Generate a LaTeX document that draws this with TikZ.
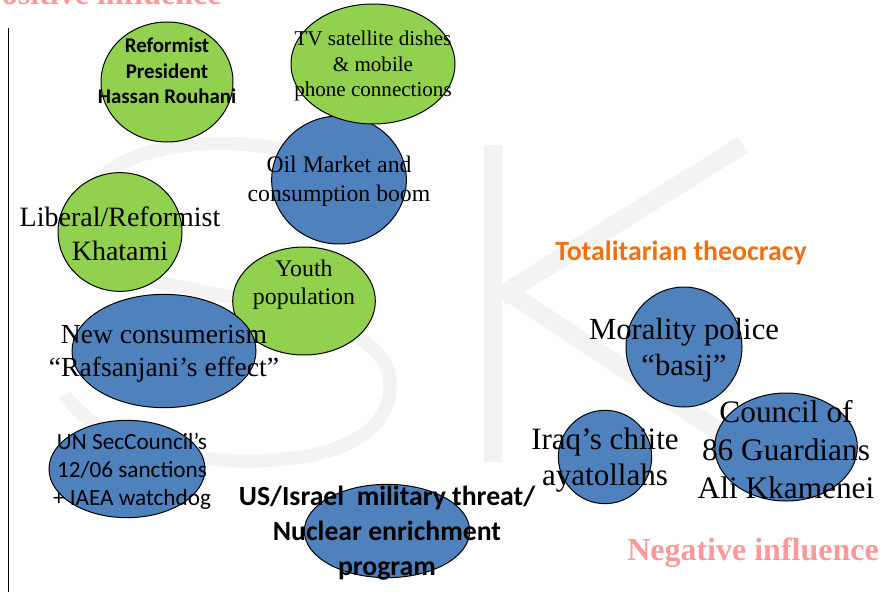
\documentclass[tikz,border=0pt]{standalone}
\usepackage{fontspec}
\setmainfont{Liberation Serif}
\newfontfamily\calibri{Carlito}
\usetikzlibrary{shapes.geometric}

\definecolor{greenblob}{RGB}{146,208,80}
\definecolor{blueblob}{RGB}{79,129,189}
\definecolor{watermark}{RGB}{242,243,242}
\definecolor{pinktitle}{RGB}{255,153,153}
\definecolor{orangetitle}{RGB}{240,112,16}

\tikzset{every picture/.style={line width=0.75pt}}
\tikzset{
  greenbubble/.style={ellipse, draw=black, fill=greenblob, line width=0.75pt, inner sep=0pt},
  bluebubble/.style={ellipse, draw=black, fill=blueblob, line width=0.75pt, inner sep=0pt},
  bubbletext/.style={align=center, inner sep=0pt, text=black},
}

\begin{document}
\begin{tikzpicture}[x=0.75pt,y=0.75pt,yscale=-1,xscale=1]
\useasboundingbox (0,0) rectangle (881,592);
\clip (0,0) rectangle (881,592);

%Watermark S
\draw [color=watermark, line width=10pt]  (330,168) .. controls (290,140) and (170,130) .. (110,170) .. controls (60,205) and (80,265) .. (170,285) .. controls (300,310) and (395,330) .. (390,390) .. controls (385,450) and (300,465) .. (220,460) .. controls (140,455) and (90,430) .. (65,395) ;
%Watermark K
\draw [color=watermark, line width=14pt]  (493,145) -- (493,462) ;
\draw [color=watermark, line width=14pt]  (500,296) -- (743,145) ;
\draw [color=watermark, line width=14pt]  (505,290) -- (765,462) ;

%Straight Lines
\coordinate (axis top) at (8,28);
\coordinate (axis bottom) at (8,592);
\draw    (axis top) -- (axis bottom) ;

%Shape: Ellipse
\node [greenbubble, minimum width=99pt, minimum height=90pt] (rouhani) at (167,82) {};
%Shape: Ellipse
\node [bluebubble, minimum width=101pt, minimum height=96pt] (oil) at (339,180) {};
%Shape: Ellipse
\node [greenbubble, minimum width=123pt, minimum height=90pt] (satellite) at (373,64) {};
%Shape: Ellipse
\node [greenbubble, minimum width=93pt, minimum height=89pt] (khatami) at (120,232) {};
%Shape: Ellipse
\node [greenbubble, minimum width=107pt, minimum height=81pt] (youth) at (304,301) {};
%Shape: Ellipse
\node [bluebubble, minimum width=138pt, minimum height=85pt] (rafsanjani) at (164,351) {};
%Shape: Ellipse
\node [bluebubble, minimum width=117pt, minimum height=73pt] (sanctions) at (127,469) {};
%Shape: Ellipse
\node [bluebubble, minimum width=124pt, minimum height=70pt] (threat) at (387,531) {};
%Shape: Ellipse
\node [bluebubble, minimum width=87pt, minimum height=90pt] (basij) at (684,347) {};
%Shape: Ellipse
\node [bluebubble, minimum width=70pt, minimum height=70pt] (ayatollahs) at (605,457) {};
%Shape: Ellipse
\node [bluebubble, minimum width=107pt, minimum height=81pt] (guardians) at (786,447) {};

% Text Node
\node [anchor=base east, inner sep=0pt, text=pinktitle, font={\fontsize{24}{28}\selectfont\bfseries}] (positive) at (222,5) {Positive influence};
% Text Node
\node [bubbletext, font={\calibri\bfseries\fontsize{15.7}{19}\selectfont}] (rouhani text) at (167,71) {Reformist\\President\\Hassan Rouhani};
% Text Node
\node [bubbletext, font={\fontsize{15.8}{19}\selectfont}] (satellite text) at (373,66) {TV satellite dishes\\\& mobile\\phone connections};
% Text Node
\node [bubbletext, font={\fontsize{17.8}{21.75}\selectfont}] (oil text) at (339,181) {Oil Market and\\consumption boom};
% Text Node
\node [bubbletext, font={\fontsize{21}{25.5}\selectfont}] (khatami text) at (120,234) {Liberal/Reformist\\Khatami};
% Text Node
\node [bubbletext, font={\fontsize{17.9}{21}\selectfont}] (youth text) at (304,285) {Youth\\population};
% Text Node
\node [bubbletext, font={\fontsize{20.7}{25}\selectfont}] (rafsanjani text) at (164,354) {New consumerism\\“Rafsanjani’s effect”};
% Text Node
\node [bubbletext, font={\calibri\fontsize{17.4}{21}\selectfont}] (sanctions text) at (132,471) {UN SecCouncil’s\\12/06 sanctions\\+ IAEA watchdog};
% Text Node
\node [bubbletext, font={\calibri\bfseries\fontsize{20.8}{26}\selectfont}] (threat text) at (387,533) {US/Israel\ \ military threat/\\Nuclear enrichment\\program};
% Text Node
\node [inner sep=0pt, text=orangetitle, font={\calibri\bfseries\fontsize{20.9}{25}\selectfont}] (theocracy) at (681,253) {Totalitarian theocracy};
% Text Node
\node [bubbletext, font={\fontsize{23}{27}\selectfont}] (basij text) at (684,350) {Morality police\\“basij”};
% Text Node
\node [bubbletext, font={\fontsize{23.3}{27.5}\selectfont}] (ayatollahs text) at (605,460) {Iraq’s chiite\\ayatollahs};
% Text Node
\node [bubbletext, font={\fontsize{23.5}{28.5}\selectfont}] (guardians text) at (786,450) {Council of\\86 Guardians\\Ali Kkamenei};
% Text Node
\node [inner sep=0pt, text=pinktitle, font={\fontsize{24}{28}\selectfont\bfseries}] (negative) at (753,553) {Negative influence};

\end{tikzpicture}
\end{document}
